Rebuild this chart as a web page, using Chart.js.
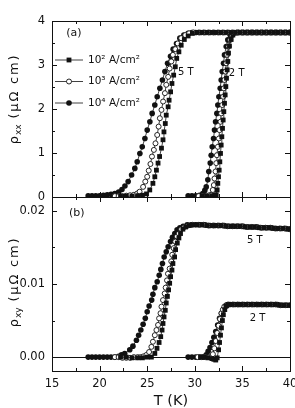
<!DOCTYPE html>
<html>
  <head>
    <script src="https://cdn.jsdelivr.net/npm/chart.js@4.4.0/dist/chart.umd.min.js"></script>
    <style>
      body { margin: 0; background: #fff; }
      canvas { position: absolute; left: 0; }
    </style>
  </head>
  <body>
    <canvas id="top" width="295" height="210" style="top:0"></canvas>
    <canvas id="bottom" width="295" height="230" style="top:180px"></canvas>
    <script>
      // [T (K), rho_xx (uOhm cm)]  -- e2/e3/e4 = 10^2/10^3/10^4 A/cm^2
      const xx5_e2 = [[22.2,.02],[22.8,.02],[23.4,.02],[24.0,.03],[24.5,.04],[24.93,.07],[25.27,.16],[25.6,.31],[25.8,.46],[25.97,.61],[26.14,.77],[26.3,.92],[26.5,1.11],[26.66,1.3],[26.76,1.48],[26.9,1.67],[27.0,1.86],[27.2,2.05],[27.3,2.2],[27.46,2.39],[27.6,2.58],[27.78,2.77],[27.95,2.96],[28.1,3.15],[28.33,3.3],[28.57,3.45],[28.9,3.58],[29.3,3.66],[29.75,3.72],[30.27,3.74],[30.77,3.74],[31.27,3.74],[31.77,3.74],[32.27,3.74],[32.77,3.74],[33.27,3.74],[33.77,3.74],[34.27,3.74],[34.77,3.74],[35.27,3.74],[35.77,3.74],[36.27,3.74],[36.77,3.74],[37.27,3.74],[37.77,3.74],[38.27,3.74],[38.77,3.74],[39.27,3.74],[39.77,3.74]];
      const xx5_e3 = [[21.6,.02],[22.0,.02],[22.4,.02],[22.8,.03],[23.2,.04],[23.6,.05],[23.95,.08],[24.2,.12],[24.57,.23],[24.8,.35],[25.0,.46],[25.16,.6],[25.34,.75],[25.5,.92],[25.7,1.07],[25.87,1.22],[26.05,1.41],[26.2,1.6],[26.33,1.79],[26.5,1.98],[26.67,2.17],[26.86,2.36],[27.0,2.55],[27.2,2.73],[27.36,2.92],[27.53,3.08],[27.7,3.23],[27.95,3.36],[28.2,3.49],[28.57,3.61],[29.0,3.68],[29.4,3.72],[29.85,3.74],[30.43,3.74],[30.93,3.74],[31.43,3.74],[31.93,3.74],[32.43,3.74],[32.93,3.74],[33.43,3.74],[33.93,3.74],[34.43,3.74],[34.93,3.74],[35.43,3.74],[35.93,3.74],[36.43,3.74],[36.93,3.74],[37.43,3.74],[37.93,3.74],[38.43,3.74],[38.93,3.74],[39.43,3.74],[39.93,3.74]];
      const xx5_e4 = [[18.8,.03],[19.2,.03],[19.6,.03],[20.0,.03],[20.4,.04],[20.8,.05],[21.2,.06],[21.6,.08],[22.0,.11],[22.35,.17],[22.66,.25],[23.0,.35],[23.36,.5],[23.7,.65],[23.95,.8],[24.23,.99],[24.48,1.14],[24.76,1.33],[25.0,1.52],[25.28,1.71],[25.52,1.9],[25.8,2.09],[26.05,2.28],[26.33,2.47],[26.6,2.66],[26.86,2.85],[27.14,3.04],[27.45,3.2],[27.73,3.36],[28.08,3.49],[28.43,3.61],[28.85,3.68],[29.3,3.72],[29.7,3.74],[30.1,3.74],[30.6,3.74],[31.1,3.74],[31.6,3.74],[32.1,3.74],[32.6,3.74],[33.1,3.74],[33.6,3.74],[34.1,3.74],[34.6,3.74],[35.1,3.74],[35.6,3.74],[36.1,3.74],[36.6,3.74],[37.1,3.74],[37.6,3.74],[38.1,3.74],[38.6,3.74],[39.1,3.74],[39.6,3.74],[40.0,3.74]];
      const xx2_e2 = [[30.8,.02],[31.3,.02],[31.8,.03],[32.1,.04],[32.25,.05],[32.35,.16],[32.42,.31],[32.49,.46],[32.56,.61],[32.63,.8],[32.7,.99],[32.77,1.18],[32.84,1.37],[32.91,1.56],[32.98,1.75],[33.05,1.94],[33.12,2.13],[33.19,2.32],[33.26,2.51],[33.33,2.7],[33.4,2.89],[33.47,3.08],[33.54,3.27],[33.64,3.43],[33.82,3.58],[34.0,3.68],[34.24,3.73],[34.7,3.74],[35.2,3.74],[35.7,3.74],[36.2,3.74],[36.7,3.74],[37.2,3.74],[37.7,3.74],[38.2,3.74],[38.7,3.74],[39.2,3.74],[39.7,3.74]];
      const xx2_e3 = [[30.4,.02],[30.8,.02],[31.2,.03],[31.5,.04],[31.72,.05],[31.89,.16],[32.0,.27],[32.07,.42],[32.18,.58],[32.25,.77],[32.32,.95],[32.42,1.14],[32.53,1.33],[32.6,1.52],[32.7,1.71],[32.77,1.9],[32.88,2.09],[32.98,2.28],[33.05,2.47],[33.12,2.66],[33.22,2.85],[33.3,3.04],[33.4,3.23],[33.54,3.42],[33.72,3.57],[33.9,3.68],[34.2,3.73],[34.6,3.74],[35.1,3.74],[35.6,3.74],[36.1,3.74],[36.6,3.74],[37.1,3.74],[37.6,3.74],[38.1,3.74],[38.6,3.74],[39.1,3.74],[39.6,3.74]];
      const xx2_e4 = [[29.3,.03],[29.7,.03],[30.1,.03],[30.5,.04],[30.84,.08],[31.05,.15],[31.2,.23],[31.37,.39],[31.47,.58],[31.62,.77],[31.72,.95],[31.83,1.14],[31.97,1.33],[32.07,1.52],[32.18,1.71],[32.32,1.9],[32.42,2.09],[32.53,2.28],[32.67,2.47],[32.77,2.66],[32.88,2.85],[33.02,3.04],[33.12,3.23],[33.3,3.42],[33.47,3.57],[33.72,3.68],[34.0,3.73],[34.4,3.74],[34.9,3.74],[35.4,3.74],[35.9,3.74],[36.4,3.74],[36.9,3.74],[37.4,3.74],[37.9,3.74],[38.4,3.74],[38.9,3.74],[39.4,3.74],[39.9,3.74]];

      // [T (K), rho_xy (uOhm cm)]
      const xy5_e2 = [[22.2,0],[22.8,0],[23.4,-.0001],[24.0,-.0001],[24.5,-.0001],[25.0,0],[25.44,0],[25.8,.0005],[26.03,.0012],[26.25,.002],[26.42,.0028],[26.56,.0037],[26.66,.0046],[26.77,.0055],[26.9,.0064],[27.0,.0074],[27.12,.0083],[27.25,.0092],[27.36,.0101],[27.46,.011],[27.6,.0119],[27.7,.0128],[27.88,.0137],[27.98,.0147],[28.16,.0156],[28.33,.0163],[28.5,.0169],[28.75,.0175],[29.04,.0178],[29.4,.018],[29.8,.0181],[30.27,.0181],[30.77,.0181],[31.27,.018],[31.77,.018],[32.27,.018],[32.77,.018],[33.27,.0179],[33.77,.0179],[34.27,.0179],[34.77,.0179],[35.27,.0178],[35.77,.0178],[36.27,.0178],[36.77,.0177],[37.27,.0177],[37.77,.0177],[38.27,.0176],[38.77,.0176],[39.27,.0176],[39.77,.0175]];
      const xy5_e3 = [[21.6,0],[22.0,0],[22.4,-.0001],[22.8,-.0001],[23.2,-.0001],[23.6,0],[24.0,0],[24.3,0],[24.6,.0001],[24.92,.0003],[25.2,.0007],[25.44,.0014],[25.6,.0021],[25.8,.003],[25.97,.0037],[26.14,.0044],[26.25,.0053],[26.4,.006],[26.5,.0069],[26.66,.0078],[26.84,.0087],[26.94,.0095],[27.08,.0105],[27.18,.0114],[27.36,.0121],[27.53,.0131],[27.63,.014],[27.78,.0149],[27.95,.0158],[28.12,.0165],[28.33,.0169],[28.57,.0175],[28.9,.0178],[29.3,.018],[29.75,.0181],[30.43,.0181],[30.93,.0181],[31.43,.018],[31.93,.018],[32.43,.018],[32.93,.018],[33.43,.0179],[33.93,.0179],[34.43,.0179],[34.93,.0179],[35.43,.0178],[35.93,.0178],[36.43,.0178],[36.93,.0177],[37.43,.0177],[37.93,.0177],[38.43,.0176],[38.93,.0176],[39.43,.0176],[39.93,.0175]];
      const xy5_e4 = [[18.8,0],[19.2,0],[19.6,0],[20.0,0],[20.4,0],[20.8,0],[21.2,0],[21.6,0],[22.0,.0001],[22.3,.0003],[22.64,.0005],[23.17,.001],[23.5,.0015],[23.87,.0023],[24.1,.003],[24.33,.0037],[24.57,.0045],[24.8,.0053],[25.0,.0062],[25.2,.007],[25.47,.0078],[25.6,.0086],[25.8,.0095],[26.05,.0103],[26.26,.0112],[26.43,.012],[26.6,.0128],[26.78,.0137],[27.0,.0144],[27.2,.0151],[27.45,.0158],[27.65,.0164],[27.9,.0169],[28.14,.0174],[28.43,.0177],[28.78,.0179],[29.2,.0181],[29.6,.0181],[30.1,.0181],[30.6,.0181],[31.1,.0181],[31.6,.018],[32.1,.018],[32.6,.018],[33.1,.018],[33.6,.0179],[34.1,.0179],[34.6,.0179],[35.1,.0179],[35.6,.0178],[36.1,.0178],[36.6,.0178],[37.1,.0177],[37.6,.0177],[38.1,.0177],[38.6,.0176],[39.1,.0176],[39.6,.0176],[40.0,.0175]];
      const xy2_e2 = [[30.6,0],[31.0,0],[31.4,-.0001],[31.8,-.0002],[32.0,-.0003],[32.2,-.0004],[32.35,-.0001],[32.5,.001],[32.6,.002],[32.7,.003],[32.8,.004],[32.9,.005],[33.0,.0058],[33.15,.0065],[33.3,.007],[33.5,.0072],[33.9,.0072],[34.4,.0072],[34.9,.0072],[35.4,.0072],[35.9,.0072],[36.4,.0072],[36.9,.0072],[37.4,.0072],[37.9,.0072],[38.4,.0072],[38.9,.0071],[39.4,.0071],[39.9,.0071]];
      const xy2_e3 = [[30.3,0],[30.7,0],[31.1,0],[31.5,0],[31.7,0],[31.9,.0004],[32.05,.0012],[32.2,.0022],[32.35,.0033],[32.5,.0043],[32.65,.0052],[32.8,.006],[32.95,.0065],[33.1,.0069],[33.3,.0071],[33.5,.0072],[34.0,.0072],[34.5,.0072],[35.0,.0072],[35.5,.0072],[36.0,.0072],[36.5,.0072],[37.0,.0072],[37.5,.0072],[38.0,.0072],[38.5,.0072],[39.0,.0071],[39.5,.0071],[40.0,.0071]];
      const xy2_e4 = [[29.3,0],[29.7,0],[30.1,0],[30.5,0],[30.9,0],[31.2,.0003],[31.4,.0008],[31.6,.0013],[31.8,.002],[32.0,.0027],[32.2,.0035],[32.4,.0044],[32.6,.0053],[32.8,.006],[33.0,.0065],[33.2,.0069],[33.4,.0071],[33.7,.0072],[34.2,.0072],[34.7,.0072],[35.2,.0072],[35.7,.0072],[36.2,.0072],[36.7,.0072],[37.2,.0072],[37.7,.0072],[38.2,.0072],[38.7,.0072],[39.2,.0071],[39.7,.0071]];

      const legendLabels = ['10² A/cm²', '10³ A/cm²', '10⁴ A/cm²'];
      const xTicks = [15, 17.5, 20, 22.5, 25, 27.5, 30, 32.5, 35, 37.5, 40];
      const xxTicks = [0, 0.5, 1, 1.5, 2, 2.5, 3, 3.5, 4];
      const xyTicks = [0, 0.005, 0.01, 0.015, 0.02];

      const FONT = '"DejaVu Sans", sans-serif';
      const INK = '#111';
      Chart.defaults.font.family = FONT;
      Chart.defaults.font.size = 11.5;
      Chart.defaults.color = INK;

      // marker look for each current density
      const marks = [
        { pointStyle: 'rect', pointRadius: 3.4, pointBackgroundColor: INK, pointBorderColor: INK, pointBorderWidth: 0 },
        { pointStyle: 'circle', pointRadius: 2.5, pointBackgroundColor: '#fff', pointBorderColor: INK, pointBorderWidth: 0.9 },
        { pointStyle: 'circle', pointRadius: 2.8, pointBackgroundColor: INK, pointBorderColor: INK, pointBorderWidth: 0 },
      ];

      function series(rows, i) {
        return Object.assign({
          data: rows.map(([x, y]) => ({ x, y })),
          showLine: true,
          borderColor: INK,
          borderWidth: 0.8,
          pointHoverRadius: 0,
        }, marks[i]);
      }

      function drawMark(ctx, i, x, y) {
        const m = marks[i];
        ctx.fillStyle = m.pointBackgroundColor;
        ctx.strokeStyle = m.pointBorderColor;
        ctx.lineWidth = m.pointBorderWidth || 0.9;
        ctx.beginPath();
        if (m.pointStyle === 'rect') {
          const s = m.pointRadius * Math.SQRT1_2;
          ctx.rect(x - s, y - s, 2 * s, 2 * s);
          ctx.fill();
        } else {
          ctx.arc(x, y, m.pointRadius, 0, Math.PI * 2);
          ctx.fill();
          if (m.pointBorderWidth) ctx.stroke();
        }
      }

      function yTitle(ctx, cx, cy, sub) {
        ctx.save();
        ctx.translate(cx, cy);
        ctx.rotate(-Math.PI / 2);
        ctx.fillStyle = INK;
        ctx.textAlign = 'left';
        ctx.textBaseline = 'alphabetic';
        const big = '13px ' + FONT, small = '9px ' + FONT;
        ctx.letterSpacing = '0px';
        ctx.font = big; const w1 = ctx.measureText('ρ').width + 1;
        ctx.font = small; const w2 = ctx.measureText(sub).width;
        ctx.letterSpacing = '1.8px';
        ctx.font = big; const w3 = ctx.measureText(' (μΩ cm)').width;
        let p = -(w1 + w2 + w3) / 2;
        ctx.letterSpacing = '0px';
        ctx.font = big; ctx.fillText('ρ', p, 4); p += w1;
        ctx.font = small; ctx.fillText(sub, p, 7); p += w2;
        ctx.letterSpacing = '1.8px';
        ctx.font = big; ctx.fillText(' (μΩ cm)', p, 4);
        ctx.restore();
      }

      // frame, inward ticks, notes, legend, y title
      function deco(cfg) {
        return {
          id: 'deco',
          afterDraw(chart) {
            const { ctx, chartArea: a, scales: { x, y } } = chart;
            ctx.save();
            ctx.strokeStyle = INK;
            ctx.lineWidth = 1;
            ctx.strokeRect(Math.round(a.left) + 0.5, Math.round(a.top) + 0.5, Math.round(a.right - a.left), Math.round(a.bottom - a.top));
            ctx.beginPath();
            x.ticks.forEach((t) => {
              const px = Math.round(x.getPixelForValue(t.value)) + 0.5;
              const len = t.value % 5 === 0 ? 5 : 3;
              ctx.moveTo(px, a.bottom); ctx.lineTo(px, a.bottom - len);
              ctx.moveTo(px, a.top); ctx.lineTo(px, a.top + len);
            });
            y.ticks.forEach((t) => {
              const py = Math.round(y.getPixelForValue(t.value)) + 0.5;
              const len = cfg.major(t.value) ? 5 : 3;
              ctx.moveTo(a.left, py); ctx.lineTo(a.left + len, py);
              ctx.moveTo(a.right, py); ctx.lineTo(a.right - len, py);
            });
            ctx.stroke();

            ctx.fillStyle = INK;
            ctx.textAlign = 'center';
            ctx.textBaseline = 'middle';
            cfg.notes.forEach(([text, t, v, size]) => {
              ctx.font = size + 'px ' + FONT;
              ctx.fillText(text, x.getPixelForValue(t), y.getPixelForValue(v));
            });

            if (cfg.legend) {
              ctx.textAlign = 'left';
              ctx.font = '10.5px ' + FONT;
              legendLabels.forEach((label, i) => {
                const ly = a.top + 39 + i * 21.5;
                ctx.strokeStyle = INK;
                ctx.lineWidth = 0.8;
                ctx.beginPath();
                ctx.moveTo(a.left + 3, ly); ctx.lineTo(a.left + 31, ly);
                ctx.stroke();
                drawMark(ctx, i, a.left + 17, ly);
                ctx.fillStyle = INK;
                ctx.fillText(label, a.left + 36, ly);
              });
            }
            ctx.restore();
            yTitle(ctx, 14, (a.top + a.bottom) / 2 - cfg.titleShift, cfg.sub);
          },
        };
      }

      function panel(id, sets, yMin, yMax, yTicks, yLabel, padTop, xHeight, showX, cfg) {
        return new Chart(document.getElementById(id), {
          type: 'scatter',
          data: { datasets: sets },
          options: {
            responsive: false,
            animation: false,
            devicePixelRatio: 1,
            layout: { padding: { left: 0, right: 5, top: padTop, bottom: 0 } },
            plugins: { legend: { display: false }, tooltip: { enabled: false } },
            scales: {
              x: {
                type: 'linear',
                min: 15,
                max: 40,
                border: { display: false },
                grid: { display: false, drawTicks: false },
                afterBuildTicks: (s) => { s.ticks = xTicks.map((value) => ({ value })); },
                ticks: {
                  autoSkip: false,
                  maxRotation: 0,
                  padding: 6,
                  font: { size: 11.5 },
                  callback: (v) => (showX && v % 5 === 0 ? String(v) : ''),
                },
                title: { display: showX, text: 'T (K)', font: { size: 14.5 }, padding: 0 },
                afterFit: (s) => { s.height = xHeight; s.paddingLeft = 0; s.paddingRight = 0; },
              },
              y: {
                min: yMin,
                max: yMax,
                border: { display: false },
                grid: {
                  drawTicks: false,
                  lineWidth: 1,
                  color: (c) => (cfg.zeroLine && c.tick && c.tick.value === 0 ? INK : 'rgba(0,0,0,0)'),
                },
                afterBuildTicks: (s) => { s.ticks = yTicks.map((value) => ({ value })); },
                ticks: { padding: 7, callback: yLabel },
                afterFit: (s) => { s.width = 52; s.paddingTop = 0; s.paddingBottom = 0; },
              },
            },
          },
          plugins: [deco(cfg)],
        });
      }

      panel('top',
        [series(xx5_e2, 0), series(xx5_e3, 1), series(xx5_e4, 2), series(xx2_e2, 0), series(xx2_e3, 1), series(xx2_e4, 2)],
        0, 4, xxTicks,
        (v) => (Number.isInteger(v) ? String(v) : ''),
        21, 13, false,
        {
          major: (v) => Number.isInteger(v),
          notes: [['(a)', 17.3, 3.73, 11], ['5 T', 29.05, 2.84, 10], ['2 T', 34.4, 2.82, 10]],
          legend: true,
          sub: 'xx',
          titleShift: 10,
        });

      panel('bottom',
        [series(xy5_e2, 0), series(xy5_e3, 1), series(xy5_e4, 2), series(xy2_e2, 0), series(xy2_e3, 1), series(xy2_e4, 2)],
        -0.0019, 0.0219, xyTicks,
        (v) => (Math.round(v * 1000) % 10 === 0 ? v.toFixed(2) : ''),
        17, 39, true,
        {
          major: (v) => Math.round(v * 1000) % 10 === 0,
          notes: [['(b)', 17.6, 0.0197, 11], ['5 T', 36.3, 0.016, 10], ['2 T', 36.6, 0.0053, 10]],
          legend: false,
          sub: 'xy',
          titleShift: 2,
          zeroLine: true,
        });
    </script>
  </body>
</html>
